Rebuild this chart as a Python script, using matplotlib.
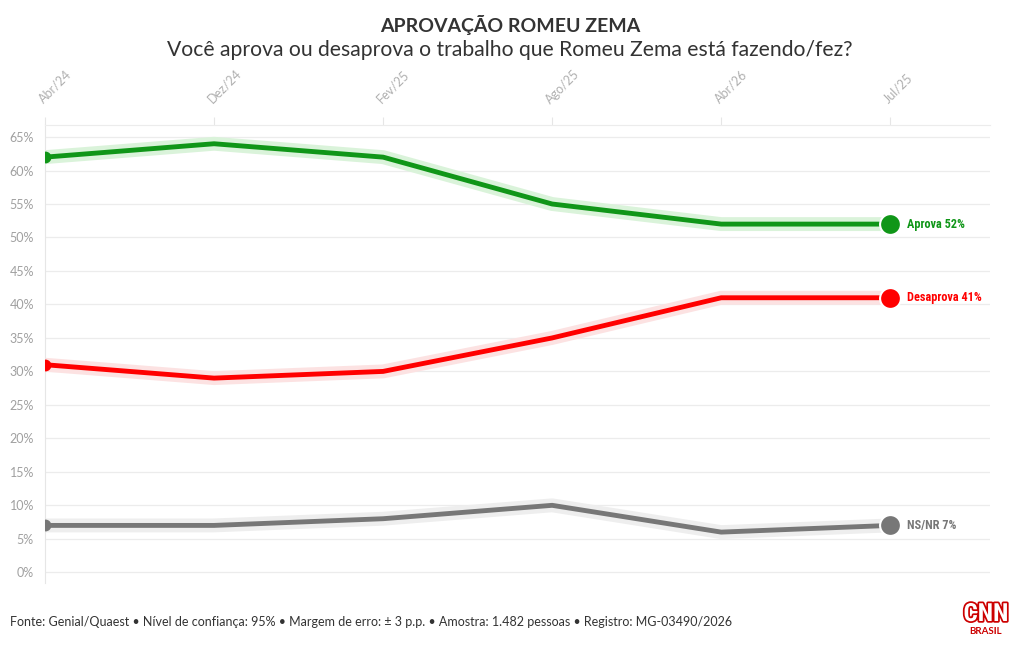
import numpy as np
import matplotlib
matplotlib.use("Agg")
import matplotlib.pyplot as plt
import matplotlib.patheffects as pe

FONT = ["Lato", "DejaVu Sans"]
plt.rcParams["font.family"] = FONT

periods = ["Abr/24", "Dez/24", "Fev/25", "Ago/25", "Abr/26", "Jul/25"]
aprova = [62, 64, 62, 55, 52, 52]
desaprova = [31, 29, 30, 35, 41, 41]
nsnr = [7, 7, 8, 10, 6, 7]

series = [
    ("Aprova", aprova, "#109618", "#daf3da"),
    ("Desaprova", desaprova, "#ff0000", "#fce2e2"),
    ("NS/NR", nsnr, "#777777", "#eeeeee"),
]

fig = plt.figure(figsize=(10.2, 6.5), dpi=100)
ax = fig.add_axes([45 / 1020, 1 - 583 / 650, 945 / 1020, 458 / 650])

x = np.arange(len(periods))
for name, vals, col, glow in series:
    ax.plot(x, vals, color=glow, lw=10, solid_joinstyle="round", solid_capstyle="round", zorder=2)
    ax.plot(x, vals, color=col, lw=3.5, solid_joinstyle="round", solid_capstyle="round", zorder=3)
    ax.plot(x[0], vals[0], "o", color=col, ms=7.5, zorder=4)
    ax.plot(x[-1], vals[-1], "o", color=col, ms=15, mec="white", mew=1.5, zorder=4)
    ax.annotate(f"{name} {vals[-1]}%", (x[-1], vals[-1]), xytext=(12, 0),
                textcoords="offset points", va="center", ha="left",
                fontsize=8.8, fontweight="bold", color=col,
                family=["Roboto Condensed", "Lato", "DejaVu Sans"])

ax.set_xlim(0, 5.59)
ax.set_ylim(-1.6, 66.8)
ax.set_yticks(range(0, 70, 5))
ax.set_yticklabels([f"{v}%" for v in range(0, 70, 5)])
ax.set_xticks(x)
ax.set_xticklabels(periods, rotation=45, ha="left", va="bottom", rotation_mode="anchor")
ax.xaxis.tick_top()
ax.tick_params(axis="x", length=6, color="#e6e6e6", labelsize=9, labelcolor="#b0b0b0", pad=8)
ax.tick_params(axis="y", length=0, labelsize=9, labelcolor="#a0a0a0", pad=8)
ax.grid(axis="y", color="#ececec", lw=0.9)
ax.set_axisbelow(True)
for side in ["right", "bottom"]:
    ax.spines[side].set_visible(False)
ax.spines["left"].set_color("#e6e6e6")
ax.spines["top"].set_color("#ececec")

fig.text(0.5, 1 - 25 / 650, "APROVAÇÃO ROMEU ZEMA", ha="center", va="center",
         fontsize=14, fontweight="bold", color="#333333")
fig.text(0.5, 1 - 50 / 650, "Você aprova ou desaprova o trabalho que Romeu Zema está fazendo/fez?",
         ha="center", va="center", fontsize=15.2, color="#333333")
fig.text(10 / 1020, 1 - 622 / 650,
         "Fonte: Genial/Quaest • Nível de confiança: 95% • Margem de erro: ± 3 p.p. • "
         "Amostra: 1.482 pessoas • Registro: MG-03490/2026",
         ha="left", va="center", fontsize=9.0, color="#333333")

# CNN Brasil logo as text
fig.text(986 / 1020, 1 - 614 / 650, "CNN", ha="center", va="center", fontsize=18,
         fontweight="bold", color="white", family=["Roboto Condensed", "Lato", "DejaVu Sans"],
         path_effects=[pe.withStroke(linewidth=2.5, foreground="#cc0000")])
fig.text(986 / 1020, 1 - 632 / 650, "BRASIL", ha="center", va="center", fontsize=7,
         fontweight="bold", color="#cc0000")

fig.savefig("out.png", dpi=100)
